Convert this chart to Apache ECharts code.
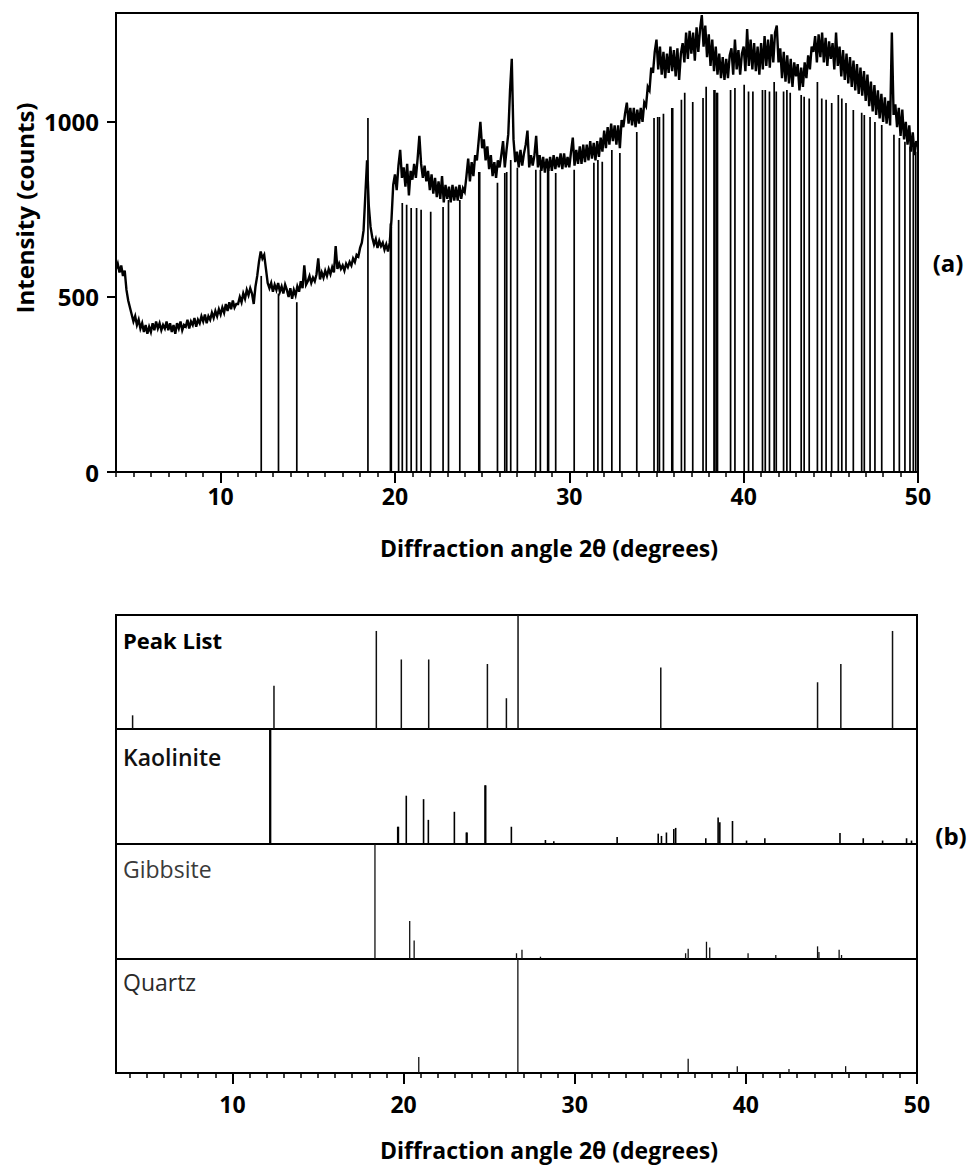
<!DOCTYPE html>
<html>
<head>
<meta charset="utf-8">
<script src="https://cdn.jsdelivr.net/npm/echarts@6/dist/echarts.min.js"></script>
<style>
  html, body { margin: 0; padding: 0; background: #fff; }
  #chart { width: 972px; height: 1171px; }
</style>
</head>
<body>
<div id="chart"></div>
<script>
// ---- Measured diffractogram: scan from 4.0 to 50.0 deg 2θ, step 0.1 deg ----
const scanStart = 4.0;
const scanStep = 0.1;
const scanCounts = [
  580, 595, 570, 590, 560, 575, 520, 490, 470, 450,   // 4
  430, 445, 420, 435, 410, 425, 400, 420, 395, 415,   // 5
  400, 425, 405, 430, 410, 425, 405, 420, 410, 430,   // 6
  405, 425, 400, 420, 395, 425, 410, 430, 405, 420,   // 7
  415, 435, 410, 430, 420, 440, 415, 435, 425, 445,   // 8
  430, 450, 425, 445, 435, 455, 440, 460, 445, 465,   // 9
  450, 470, 455, 480, 460, 485, 465, 490, 470, 480,   // 10
  480, 500, 485, 510, 495, 520, 505, 525, 510, 480,   // 11
  530, 560, 600, 630, 610, 620, 580, 540, 525, 540,   // 12
  515, 535, 520, 540, 515, 530, 510, 535, 520, 500,   // 13
  525, 495, 520, 505, 530, 515, 545, 525, 590, 535,   // 14
  545, 560, 540, 555, 545, 565, 610, 550, 570, 555,   // 15
  575, 560, 580, 565, 585, 570, 645, 580, 595, 580,   // 16
  590, 575, 595, 585, 600, 590, 610, 600, 620, 615,   // 17
  640, 655, 690, 790, 890, 760, 700, 670, 650, 665,   // 18
  640, 660, 645, 655, 635, 650, 630, 655, 720, 820,   // 19
  850, 805, 875, 920, 840, 870, 815, 880, 790, 860,   // 20
  835, 880, 840, 895, 960, 880, 840, 875, 830, 860,   // 21
  805, 850, 795, 840, 785, 830, 780, 845, 770, 820,   // 22
  780, 815, 770, 820, 775, 815, 775, 820, 780, 810,   // 23
  800, 845, 895, 830, 885, 845, 905, 890, 945, 1000,  // 24
  925, 950, 890, 930, 865, 905, 845, 885, 840, 890,   // 25
  870, 905, 945, 870, 920, 965, 1090, 1180, 950, 885, // 26
  915, 870, 920, 875, 910, 935, 975, 870, 905, 875,   // 27
  905, 960, 870, 905, 860, 900, 855, 895, 860, 900,   // 28
  860, 905, 865, 900, 870, 910, 865, 910, 870, 900,   // 29
  870, 915, 955, 875, 920, 880, 930, 880, 935, 885,   // 30
  935, 890, 945, 895, 940, 890, 945, 900, 955, 915,   // 31
  975, 925, 985, 935, 995, 945, 990, 935, 990, 925,   // 32
  1005, 985, 1025, 1055, 995, 1040, 990, 1040, 985, 1035,    // 33
  995, 1040, 1000, 1055, 1045, 1100, 1090, 1155, 1140, 1200, // 34
  1235, 1150, 1215, 1135, 1200, 1125, 1195, 1140, 1215, 1145, // 35
  1205, 1130, 1210, 1120, 1195, 1225, 1170, 1255, 1180, 1260, // 36
  1195, 1255, 1175, 1270, 1200, 1265, 1305, 1215, 1275, 1185, // 37
  1250, 1160, 1235, 1145, 1215, 1135, 1195, 1125, 1185, 1120, // 38
  1180, 1125, 1190, 1210, 1135, 1235, 1150, 1205, 1135, 1195, // 39
  1215, 1145, 1265, 1160, 1235, 1150, 1225, 1145, 1215, 1135, // 40
  1225, 1150, 1245, 1160, 1235, 1155, 1250, 1170, 1255, 1275, // 41
  1170, 1210, 1125, 1200, 1115, 1190, 1110, 1180, 1100, 1170, // 42
  1130, 1165, 1090, 1155, 1100, 1170, 1125, 1190, 1150, 1215, // 43
  1200, 1245, 1170, 1250, 1185, 1255, 1170, 1240, 1160, 1230, // 44
  1180, 1225, 1150, 1255, 1160, 1215, 1130, 1205, 1120, 1195, // 45
  1110, 1185, 1100, 1175, 1090, 1165, 1080, 1155, 1075, 1145, // 46
  1060, 1135, 1045, 1115, 1030, 1105, 1020, 1090, 1010, 1080, // 47
  1000, 1070, 995, 1060, 990, 1255, 1020, 1050, 985, 1040,    // 48
  960, 1035, 950, 1000, 935, 990, 915, 970, 905, 945,         // 49
  930                                                          // 50
];

// ---- Reference line positions (deg 2θ) and heights (counts) under the scan ----
const refLineAngles = [
  12.33, 13.32, 14.37, 18.45, 19.74, 19.79, 20.21, 20.42, 20.67, 20.93,
  21.24, 21.5, 22.05, 22.76, 23.07, 23.72, 24.81, 24.86, 25.88, 26.3,
  26.41, 26.64, 27.02, 28.08, 28.34, 28.76, 28.81, 29.22, 30.28, 31.41,
  31.64, 31.89, 32.44, 32.9, 33.87, 34.86, 35.07, 35.17, 35.4, 35.88,
  35.93, 36.43, 36.62, 37.08, 37.67, 37.85, 38.3, 38.35, 38.45, 38.5,
  39.25, 39.5, 40.03, 40.28, 40.53, 41.08, 41.24, 41.48, 41.75, 41.87,
  42.29, 42.48, 42.67, 43.3, 43.47, 43.76, 44.23, 44.48, 44.73, 45.05,
  45.43, 45.63, 45.87, 46.29, 46.77, 46.92, 47.25, 47.53, 47.92, 48.62,
  48.93, 49.25, 49.54, 49.73, 49.87
];
const refLineCounts = [
  560, 510, 485, 1011, 710, 700, 720, 768, 763, 754,
  754, 749, 743, 757, 777, 777, 857, 857, 826, 854,
  857, 891, 869, 863, 863, 863, 863, 854, 863, 883,
  891, 886, 920, 911, 971, 1011, 1014, 1014, 1023, 1040,
  1040, 1063, 1083, 1057, 1068, 1100, 1091, 1091, 1083, 1083,
  1091, 1097, 1106, 1087, 1087, 1091, 1091, 1087, 1114, 1087,
  1087, 1091, 1083, 1077, 1072, 1067, 1114, 1067, 1063, 1054,
  1077, 1067, 1054, 1034, 1026, 1020, 1014, 1000, 991, 963,
  954, 943, 930, 925, 915
];

// ---- Stick patterns (relative intensity, %) ----
const peakListAngles  = [4.17, 12.43, 18.41, 19.87, 21.47, 24.9, 26.01, 26.69, 35.03, 44.19, 45.55, 48.57];
const peakListHeights = [12, 38, 86, 61, 61, 57, 27, 100, 54, 41, 57, 86];

const kaoliniteAngles  = [12.19, 12.23, 19.66, 19.7, 20.16, 21.17, 21.45, 22.97, 23.67, 23.71,
                          24.76, 24.8, 26.3, 28.29, 28.78, 32.48, 34.88, 35.07, 35.36, 35.79,
                          35.9, 37.66, 38.38, 38.48, 39.22, 40.04, 41.11, 45.5, 46.86, 47.99,
                          49.39, 49.68];
const kaoliniteHeights = [100, 100, 15, 15, 42, 39, 21, 28, 10, 10,
                          51, 51, 15, 3.5, 2.5, 6, 9, 7, 10, 13,
                          14, 5, 23, 19, 20, 3, 5, 9.5, 5, 3,
                          5, 3];

const gibbsiteAngles  = [18.33, 20.36, 20.62, 26.6, 26.92, 28.0, 36.48, 36.63, 37.7, 37.89,
                         40.13, 41.75, 44.19, 44.27, 45.45, 45.59];
const gibbsiteHeights = [100, 33, 16, 5, 8, 2, 5, 9, 15, 10,
                         5, 3.5, 11, 6, 8, 3.5];

const quartzAngles  = [20.89, 26.68, 36.63, 39.5, 42.52, 45.83];
const quartzHeights = [14, 100, 12.5, 6, 3.5, 6];

// ---- Axis tick values ----
const majorTicks = [10, 20, 30, 40, 50];
const minorTicks = [4, 5, 6, 7, 8, 9, 11, 12, 13, 14, 15, 16, 17, 18, 19, 21, 22, 23, 24, 25, 26, 27, 28, 29,
                    31, 32, 33, 34, 35, 36, 37, 38, 39, 41, 42, 43, 44, 45, 46, 47, 48, 49];
const countTicks = [0, 500, 1000];

const panelNames = ['Peak List', 'Kaolinite', 'Gibbsite', 'Quartz'];

// ---- Build series data ----
const scanData = scanCounts.map((c, i) => [+(scanStart + i * scanStep).toFixed(1), c]);
const zip = (a, b) => a.map((x, i) => [x, b[i]]);

const FONT = '"Open Sans", "Noto Sans", "DejaVu Sans", sans-serif';

function stickRenderer(width, color) {
  return function (params, api) {
    const x = api.value(0);
    const p0 = api.coord([x, 0]);
    const p1 = api.coord([x, api.value(1)]);
    return {
      type: 'line',
      shape: { x1: p0[0], y1: p0[1], x2: p1[0], y2: p1[1] },
      style: { stroke: color, lineWidth: width }
    };
  };
}

const topGrid = { left: 116, top: 13, width: 802, height: 459 };
const panelTops = [615, 729, 844, 959];
const panelHeights = [114, 115, 115, 114];

const grids = [
  Object.assign({ show: true, borderColor: '#000', borderWidth: 2 }, topGrid)
];
panelTops.forEach((t, i) => grids.push({
  left: 116, top: t, width: 801, height: panelHeights[i],
  show: true, borderColor: '#000', borderWidth: 2
}));

const tickLabelStyle = { color: '#000', fontFamily: FONT, fontWeight: 'bold', fontSize: 23 };

function mainXAxis(gridIndex, min, margin) {
  return {
    type: 'value', gridIndex, min, max: 50, position: 'bottom',
    axisLine: { show: true, lineStyle: { color: '#000', width: 2 } },
    axisTick: { show: true, customValues: majorTicks, length: 11, lineStyle: { color: '#000', width: 2 } },
    axisLabel: Object.assign({ customValues: majorTicks, margin }, tickLabelStyle),
    splitLine: { show: false }
  };
}
function minorXAxis(gridIndex, min) {
  return {
    type: 'value', gridIndex, min, max: 50, position: 'bottom',
    axisLine: { show: false },
    axisTick: { show: true, customValues: minorTicks, length: 5, lineStyle: { color: '#000', width: 1.5 } },
    axisLabel: { show: false },
    splitLine: { show: false }
  };
}
function hiddenXAxis(gridIndex, min) {
  return { type: 'value', gridIndex, min, max: 50, show: false, splitLine: { show: false } };
}

const xAxes = [
  mainXAxis(0, 4, 12),        // 0: scan axis
  minorXAxis(0, 4),           // 1
  hiddenXAxis(1, 3.2),        // 2: Peak List
  hiddenXAxis(2, 3.2),        // 3: Kaolinite
  hiddenXAxis(3, 3.2),        // 4: Gibbsite
  mainXAxis(4, 3.2, 19),      // 5: Quartz (shared scale for the stack)
  minorXAxis(4, 3.2)          // 6
];

const yAxes = [
  {
    type: 'value', gridIndex: 0, min: 0, max: 1311,
    axisLine: { show: true, lineStyle: { color: '#000', width: 2 } },
    axisTick: { show: true, customValues: countTicks, length: 9, lineStyle: { color: '#000', width: 2 } },
    axisLabel: Object.assign({ customValues: countTicks, margin: 17, formatter: v => String(v) },
                             tickLabelStyle, { fontSize: 24 }),
    splitLine: { show: false }
  }
];
for (let i = 1; i <= 4; i++) {
  yAxes.push({ type: 'value', gridIndex: i, min: 0, max: 100, show: false, splitLine: { show: false } });
}

const series = [
  {
    type: 'custom', name: 'Reference lines', xAxisIndex: 0, yAxisIndex: 0,
    renderItem: stickRenderer(1.7, '#000'), data: zip(refLineAngles, refLineCounts), z: 2
  },
  {
    type: 'line', name: 'Scan', xAxisIndex: 0, yAxisIndex: 0, data: scanData,
    showSymbol: false, lineStyle: { color: '#000', width: 2.4, join: 'miter' }, z: 3
  },
  {
    type: 'custom', name: panelNames[0], xAxisIndex: 2, yAxisIndex: 1,
    renderItem: stickRenderer(1.5, '#111'), data: zip(peakListAngles, peakListHeights)
  },
  {
    type: 'custom', name: panelNames[1], xAxisIndex: 3, yAxisIndex: 2,
    renderItem: stickRenderer(1.6, '#000'), data: zip(kaoliniteAngles, kaoliniteHeights)
  },
  {
    type: 'custom', name: panelNames[2], xAxisIndex: 4, yAxisIndex: 3,
    renderItem: stickRenderer(1.3, '#111'), data: zip(gibbsiteAngles, gibbsiteHeights)
  },
  {
    type: 'custom', name: panelNames[3], xAxisIndex: 5, yAxisIndex: 4,
    renderItem: stickRenderer(1.3, '#111'), data: zip(quartzAngles, quartzHeights)
  }
];

const text = (x, y, t, extra) => ({
  type: 'text', x, y,
  style: Object.assign({ text: t, fill: '#000', font: 'bold 23px ' + FONT, align: 'center', verticalAlign: 'middle' }, extra || {})
});

const graphics = [
  text(549, 548, 'Diffraction angle 2θ (degrees)'),
  text(549, 1150, 'Diffraction angle 2θ (degrees)'),
  Object.assign(text(24, 208, 'Intensity (counts)', { font: 'bold 24px ' + FONT }), { rotation: Math.PI / 2 }),
  text(948, 262, '(a)', { font: 'bold 24px ' + FONT }),
  text(951, 835, '(b)', { font: 'bold 24px ' + FONT }),
  text(123, 640, panelNames[0], { align: 'left', font: 'bold 22px ' + FONT }),
  text(123, 757, panelNames[1], { align: 'left', font: '600 23px ' + FONT, fill: '#111' }),
  text(123, 869, panelNames[2], { align: 'left', font: 'normal 23px ' + FONT, fill: '#3a3a3a' }),
  text(123, 982, panelNames[3], { align: 'left', font: 'normal 23px ' + FONT, fill: '#2a2a2a' })
];

const chart = echarts.init(document.getElementById('chart'), null, { renderer: 'svg' });
chart.setOption({
  animation: false,
  backgroundColor: '#fff',
  grid: grids,
  xAxis: xAxes,
  yAxis: yAxes,
  series,
  graphic: graphics
});
</script>
</body>
</html>
